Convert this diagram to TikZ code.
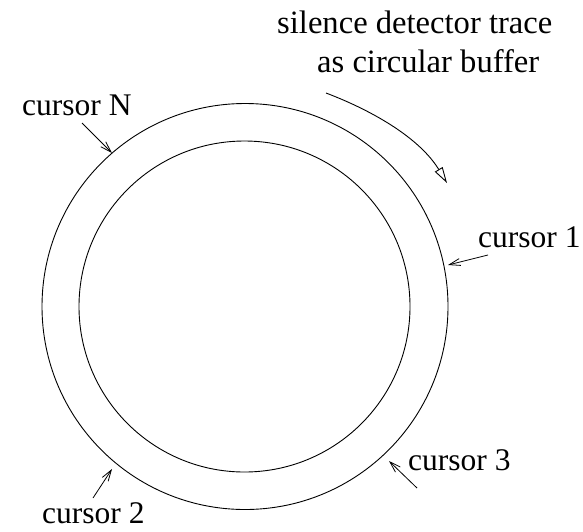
\documentclass[tikz,border=0pt]{standalone}
\usepackage{fontspec}
\setmainfont{Liberation Serif}
\usetikzlibrary{arrows.meta}
\begin{document}
\begin{tikzpicture}[x=1pt,y=-1pt,
  ring/.style={circle, draw, inner sep=0pt, line width=0.9pt},
  lbl/.style={font=\fontsize{31.5}{36}\selectfont, inner sep=0pt, anchor=base west},
  ttl/.style={lbl, font=\fontsize{32.6}{36}\selectfont},
  cur/.style={-{Straight Barb[length=11pt,width=7pt]}, line width=0.8pt},
  flow/.style={-{Triangle[open,length=16pt,width=9pt]}, line width=0.9pt}]
\useasboundingbox (0,0) rectangle (583,531);
\node[ring, minimum size=406pt] (outer) at (245,306.5) {};
\node[ring, minimum size=331pt] (inner) at (244.5,306.5) {};
\node[ttl] (title1) at (277,33) {silence detector trace};
\node[ttl] (title2) at (317,72) {as circular buffer};
\node[lbl] (curN) at (22,115) {cursor N};
\node[lbl] (cur1) at (478,247) {cursor 1};
\node[lbl] (cur2) at (42,523) {cursor 2};
\node[lbl] (cur3) at (408,470) {cursor 3};
\coordinate (aS) at (326,93);
\coordinate (aE) at (447,183);
\coordinate (nS) at (82,123);  \coordinate (nE) at (112,153);
\coordinate (oS) at (488,255); \coordinate (oE) at (448,265);
\coordinate (tS) at (93,498);  \coordinate (tE) at (112,469);
\coordinate (hS) at (417,488); \coordinate (hE) at (389,461);
\draw[flow] (aS) .. controls (374.4,111.4) and (420.1,138.8) .. (aE);
\draw[cur] (nS) -- (nE);
\draw[cur] (oS) -- (oE);
\draw[cur] (tS) -- (tE);
\draw[cur] (hS) -- (hE);
\end{tikzpicture}
\end{document}
